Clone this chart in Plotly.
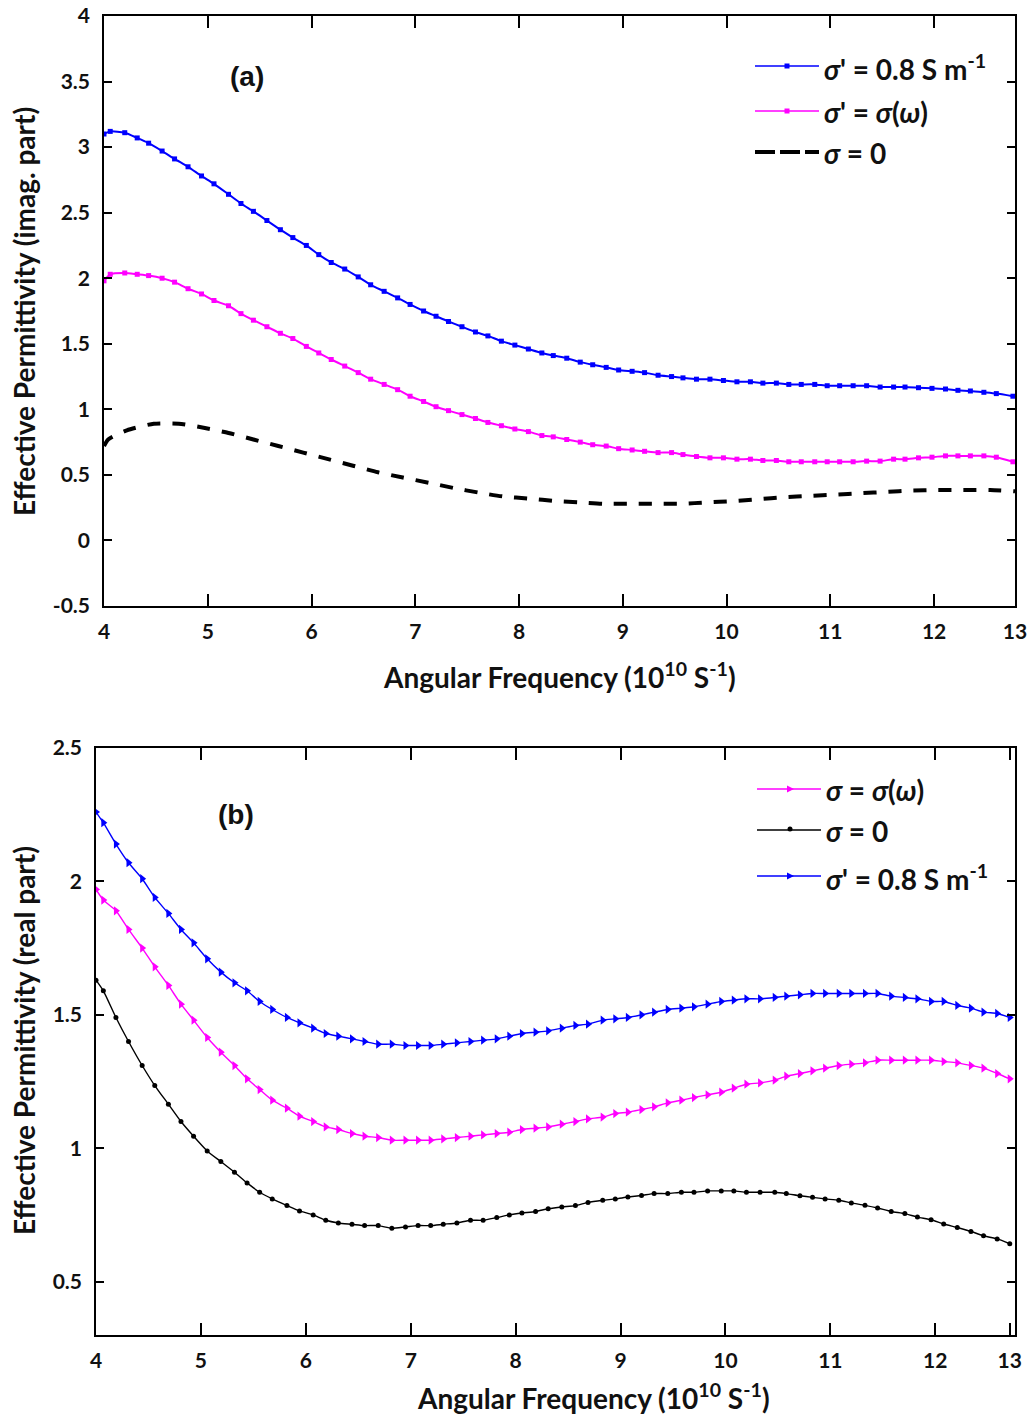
import plotly.graph_objects as go

W, H = 1031, 1418

# ---------------- Panel (a): imaginary part ----------------
xa = [4.00, 4.06, 4.20, 4.32, 4.43, 4.56, 4.68, 4.81, 4.94, 5.06, 5.20, 5.32, 5.44, 5.57, 5.70,
      5.82, 5.95, 6.07, 6.19, 6.32, 6.45, 6.57, 6.70, 6.83, 6.95, 7.08, 7.20, 7.32, 7.45, 7.58,
      7.70, 7.83, 7.96, 8.09, 8.22, 8.33, 8.46, 8.59, 8.71, 8.84, 8.96, 9.09, 9.21, 9.34, 9.47,
      9.58, 9.71, 9.84, 9.97, 10.10, 10.23, 10.35, 10.48, 10.60, 10.72, 10.85, 10.97, 11.09, 11.22, 11.35,
      11.48, 11.61, 11.72, 11.85, 11.98, 12.11, 12.23, 12.35, 12.48, 12.60, 12.76]
a_blue = [3.10, 3.12, 3.11, 3.07, 3.03, 2.97, 2.91, 2.85, 2.78, 2.72, 2.64, 2.57, 2.51, 2.44, 2.37,
          2.31, 2.25, 2.18, 2.12, 2.07, 2.01, 1.95, 1.90, 1.85, 1.80, 1.75, 1.71, 1.67, 1.63, 1.59,
          1.56, 1.52, 1.49, 1.46, 1.43, 1.41, 1.39, 1.36, 1.34, 1.32, 1.30, 1.29, 1.28, 1.26, 1.25,
          1.24, 1.23, 1.23, 1.22, 1.21, 1.21, 1.20, 1.20, 1.19, 1.19, 1.19, 1.18, 1.18, 1.18, 1.18,
          1.17, 1.17, 1.17, 1.165, 1.16, 1.155, 1.145, 1.14, 1.13, 1.12, 1.10]
a_magenta = [1.98, 2.03, 2.04, 2.03, 2.02, 2.00, 1.97, 1.92, 1.88, 1.83, 1.79, 1.73, 1.68, 1.63, 1.58,
             1.54, 1.48, 1.43, 1.38, 1.33, 1.28, 1.23, 1.19, 1.15, 1.10, 1.06, 1.02, 0.99, 0.96, 0.93,
             0.90, 0.875, 0.85, 0.83, 0.80, 0.79, 0.77, 0.75, 0.73, 0.72, 0.70, 0.69, 0.68, 0.67, 0.67,
             0.655, 0.64, 0.63, 0.63, 0.62, 0.62, 0.61, 0.61, 0.60, 0.60, 0.60, 0.60, 0.60, 0.60, 0.605,
             0.605, 0.62, 0.62, 0.63, 0.635, 0.645, 0.645, 0.645, 0.645, 0.635, 0.60]
xa_dash = [4.00, 4.04, 4.22, 4.48, 4.72, 4.96, 5.20, 5.44, 5.68, 5.92, 6.16, 6.40, 6.64, 6.88, 7.13,
           7.37, 7.61, 7.85, 8.09, 8.36, 8.59, 8.81, 9.07, 9.31, 9.57, 9.81, 10.05, 10.31, 10.55, 10.80,
           11.05, 11.29, 11.54, 11.78, 12.03, 12.28, 12.54, 12.78]
a_black = [0.72, 0.77, 0.84, 0.89, 0.89, 0.86, 0.82, 0.77, 0.72, 0.67, 0.62, 0.57, 0.52, 0.48, 0.44,
           0.40, 0.365, 0.335, 0.32, 0.30, 0.29, 0.28, 0.28, 0.28, 0.28, 0.29, 0.30, 0.315, 0.33, 0.34,
           0.35, 0.36, 0.37, 0.38, 0.385, 0.385, 0.385, 0.375]

# ---------------- Panel (b): real part ----------------
xb = [4.00, 4.07, 4.19, 4.31, 4.44, 4.56, 4.69, 4.81, 4.93, 5.06, 5.19, 5.32, 5.44, 5.56, 5.68,
      5.82, 5.94, 6.07, 6.19, 6.31, 6.44, 6.56, 6.69, 6.82, 6.95, 7.07, 7.19, 7.31, 7.44, 7.57,
      7.69, 7.82, 7.94, 8.06, 8.19, 8.31, 8.44, 8.57, 8.69, 8.83, 8.95, 9.07, 9.20, 9.32, 9.45,
      9.58, 9.70, 9.83, 9.96, 10.08, 10.20, 10.33, 10.47, 10.58, 10.71, 10.83, 10.95, 11.08, 11.20, 11.33,
      11.45, 11.58, 11.71, 11.83, 11.96, 12.08, 12.21, 12.34, 12.46, 12.59, 12.71]
b_blue = [2.26, 2.22, 2.14, 2.07, 2.01, 1.94, 1.88, 1.82, 1.77, 1.71, 1.66, 1.62, 1.59, 1.55, 1.52,
          1.49, 1.47, 1.45, 1.43, 1.42, 1.41, 1.40, 1.39, 1.39, 1.385, 1.385, 1.385, 1.39, 1.395, 1.40,
          1.405, 1.41, 1.42, 1.43, 1.435, 1.44, 1.45, 1.46, 1.465, 1.48, 1.485, 1.49, 1.50, 1.51, 1.52,
          1.525, 1.53, 1.54, 1.55, 1.555, 1.56, 1.56, 1.565, 1.57, 1.575, 1.58, 1.58, 1.58, 1.58, 1.58,
          1.58, 1.57, 1.565, 1.56, 1.55, 1.55, 1.535, 1.525, 1.51, 1.505, 1.49]
b_magenta = [1.97, 1.93, 1.89, 1.82, 1.75, 1.68, 1.61, 1.54, 1.48, 1.415, 1.36, 1.31, 1.26, 1.22, 1.18,
             1.15, 1.12, 1.10, 1.08, 1.07, 1.055, 1.045, 1.04, 1.03, 1.03, 1.03, 1.03, 1.035, 1.04, 1.045,
             1.05, 1.055, 1.06, 1.07, 1.075, 1.08, 1.09, 1.10, 1.11, 1.117, 1.13, 1.135, 1.145, 1.155, 1.17,
             1.18, 1.19, 1.20, 1.21, 1.225, 1.24, 1.245, 1.255, 1.27, 1.28, 1.29, 1.30, 1.31, 1.315, 1.32,
             1.33, 1.33, 1.33, 1.33, 1.33, 1.325, 1.32, 1.31, 1.30, 1.28, 1.26]
b_black = [1.63, 1.59, 1.49, 1.40, 1.31, 1.235, 1.165, 1.10, 1.045, 0.99, 0.95, 0.91, 0.87, 0.835, 0.81,
           0.785, 0.765, 0.75, 0.73, 0.72, 0.715, 0.71, 0.71, 0.70, 0.705, 0.71, 0.71, 0.715, 0.72, 0.73,
           0.73, 0.74, 0.75, 0.757, 0.763, 0.773, 0.78, 0.785, 0.797, 0.805, 0.81, 0.817, 0.823, 0.83, 0.83,
           0.835, 0.835, 0.84, 0.84, 0.84, 0.835, 0.835, 0.835, 0.83, 0.822, 0.816, 0.81, 0.805, 0.795, 0.786,
           0.776, 0.763, 0.755, 0.742, 0.732, 0.716, 0.703, 0.688, 0.672, 0.66, 0.642]

# ---------------- Tick labels ----------------
xa_tickvals = [4, 5, 6, 7, 8, 9, 10, 11, 12, 12.78]
xb_tickvals = [4, 5, 6, 7, 8, 9, 10, 11, 12, 12.71]
x_ticktext = ["4", "5", "6", "7", "8", "9", "10", "11", "12", "13"]
ya_tickvals = [-0.5, 0, 0.5, 1, 1.5, 2, 2.5, 3, 3.5, 4]
ya_ticktext = ["-0.5", "0", "0.5", "1", "1.5", "2", "2.5", "3", "3.5", "4"]
yb_tickvals = [0.5, 1, 1.5, 2, 2.5]
yb_ticktext = ["0.5", "1", "1.5", "2", "2.5"]

BLUE, MAG, BLK = "#0000FF", "#FF00FF", "#000000"

fig = go.Figure()
fig.add_trace(go.Scatter(x=xa, y=a_blue, mode="lines+markers", xaxis="x", yaxis="y",
                         line=dict(color=BLUE, width=2, shape="spline", smoothing=0.6),
                         marker=dict(symbol="square", size=5, color=BLUE), showlegend=False))
fig.add_trace(go.Scatter(x=xa, y=a_magenta, mode="lines+markers", xaxis="x", yaxis="y",
                         line=dict(color=MAG, width=2, shape="spline", smoothing=0.6),
                         marker=dict(symbol="square", size=5, color=MAG), showlegend=False))
fig.add_trace(go.Scatter(x=xa_dash, y=a_black, mode="lines", xaxis="x", yaxis="y",
                         line=dict(color=BLK, width=4, dash="13px,12px", shape="spline", smoothing=0.6),
                         showlegend=False))
fig.add_trace(go.Scatter(x=xb, y=b_magenta, mode="lines+markers", xaxis="x2", yaxis="y2",
                         line=dict(color=MAG, width=1.4, shape="spline", smoothing=0.6),
                         marker=dict(symbol="triangle-right", size=8, color=MAG), showlegend=False))
fig.add_trace(go.Scatter(x=xb, y=b_black, mode="lines+markers", xaxis="x2", yaxis="y2",
                         line=dict(color=BLK, width=1.4, shape="spline", smoothing=0.6),
                         marker=dict(symbol="circle", size=5, color=BLK), showlegend=False))
fig.add_trace(go.Scatter(x=xb, y=b_blue, mode="lines+markers", xaxis="x2", yaxis="y2",
                         line=dict(color=BLUE, width=1.4, shape="spline", smoothing=0.6),
                         marker=dict(symbol="triangle-right", size=8, color=BLUE), showlegend=False))

tickfont = dict(family="Lato", size=21, color="#111111", weight="bold")
ax_common = dict(showline=True, linecolor="black", linewidth=1.5, mirror="ticks",
                 ticks="inside", tickcolor="black", tickwidth=1.5, showgrid=False,
                 zeroline=False, tickfont=tickfont, automargin=False, tickmode="array")

def PX(p):
    return p / W

def PY(p):
    return 1 - p / H

fig.update_layout(
    width=W, height=H, margin=dict(l=0, r=0, t=0, b=0),
    paper_bgcolor="white", plot_bgcolor="white", showlegend=False,
    xaxis=dict(domain=[PX(104), PX(1015)], anchor="y", range=[4, 12.78],
               tickvals=xa_tickvals, ticktext=x_ticktext, ticklen=12, ticklabelstandoff=6, **ax_common),
    yaxis=dict(domain=[PY(606), PY(16)], anchor="x", range=[-0.5, 4],
               tickvals=ya_tickvals, ticktext=ya_ticktext, ticklen=8, ticklabelstandoff=8, **ax_common),
    xaxis2=dict(domain=[PX(96), PX(1015)], anchor="y2", range=[4, 12.76],
                tickvals=xb_tickvals, ticktext=x_ticktext, ticklen=12, ticklabelstandoff=6, **ax_common),
    yaxis2=dict(domain=[PY(1335), PY(748)], anchor="x2", range=[0.3, 2.5],
                tickvals=yb_tickvals, ticktext=yb_ticktext, ticklen=8, ticklabelstandoff=8, **ax_common),
)

title_font = dict(family="Lato", size=28, color="#111111", weight="bold")
ann = []
ann.append(dict(text="Effective Permittivity (imag. part)", x=PX(24), y=PY(312), textangle=-90,
                font=title_font))
ann.append(dict(text="Effective Permittivity (real part)", x=PX(24), y=PY(1041), textangle=-90,
                font=title_font))
ann.append(dict(text="Angular Frequency (10<sup>10</sup> S<sup>-1</sup>)", x=PX(559), y=PY(676),
                font=title_font))
ann.append(dict(text="Angular Frequency (10<sup>10</sup> S<sup>-1</sup>)", x=PX(593), y=PY(1396),
                font=title_font))
ann.append(dict(text="(a)", x=PX(247), y=PY(76),
                font=dict(family="Liberation Sans", size=28, color="#111111", weight="bold")))
ann.append(dict(text="(b)", x=PX(236), y=PY(814),
                font=dict(family="Liberation Sans", size=28, color="#111111", weight="bold")))

leg_font = dict(family="Lato", size=28, color="#111111", weight="bold")
sig = "<i>σ</i>"
legend_a = [("%s' = 0.8 S m<sup>-1</sup>" % sig, 66), ("%s' = %s(<i>ω</i>)" % (sig, sig), 111), ("%s = 0" % sig, 152)]
legend_b = [("%s = %s(<i>ω</i>)" % (sig, sig), 789), ("%s = 0" % sig, 830), ("%s' = 0.8 S m<sup>-1</sup>" % sig, 876)]
for t, yy in legend_a:
    ann.append(dict(text=t, x=PX(822), y=PY(yy + 1), xanchor="left", font=leg_font))
for t, yy in legend_b:
    ann.append(dict(text=t, x=PX(824), y=PY(yy + 1), xanchor="left", font=leg_font))

for a in ann:
    a.setdefault("xanchor", "center")
    a.update(xref="paper", yref="paper", yanchor="middle", showarrow=False)
fig.update_layout(annotations=ann)

shapes = []
def hline(x0, x1, y, color, width, dash="solid"):
    shapes.append(dict(type="line", xref="paper", yref="paper", x0=PX(x0), x1=PX(x1), y0=PY(y), y1=PY(y),
                       line=dict(color=color, width=width, dash=dash)))

def square(cx, cy, s, color):
    shapes.append(dict(type="rect", xref="paper", yref="paper", x0=PX(cx - s / 2), x1=PX(cx + s / 2),
                       y0=PY(cy - s / 2), y1=PY(cy + s / 2), fillcolor=color, line=dict(width=0)))

def circle(cx, cy, s, color):
    shapes.append(dict(type="circle", xref="paper", yref="paper", x0=PX(cx - s / 2), x1=PX(cx + s / 2),
                       y0=PY(cy - s / 2), y1=PY(cy + s / 2), fillcolor=color, line=dict(width=0)))

def tri(cx, cy, color):
    p = "M %f,%f L %f,%f L %f,%f Z" % (PX(cx - 3), PY(cy - 3.5), PX(cx + 4), PY(cy), PX(cx - 3), PY(cy + 3.5))
    shapes.append(dict(type="path", xref="paper", yref="paper", path=p, fillcolor=color, line=dict(width=0)))

hline(755, 819, 66, BLUE, 1.6); square(787, 66, 5, BLUE)
hline(755, 819, 111, MAG, 1.6); square(787, 111, 5, MAG)
hline(755, 819, 152, BLK, 4, "20px,5px")
hline(757, 821, 789, MAG, 1.4); tri(790, 789, MAG)
hline(757, 821, 830, BLK, 1.4); circle(790, 829, 5, BLK)
hline(757, 821, 876, BLUE, 1.4); tri(790, 876, BLUE)
fig.update_layout(shapes=shapes)

fig.write_html("out.html")
